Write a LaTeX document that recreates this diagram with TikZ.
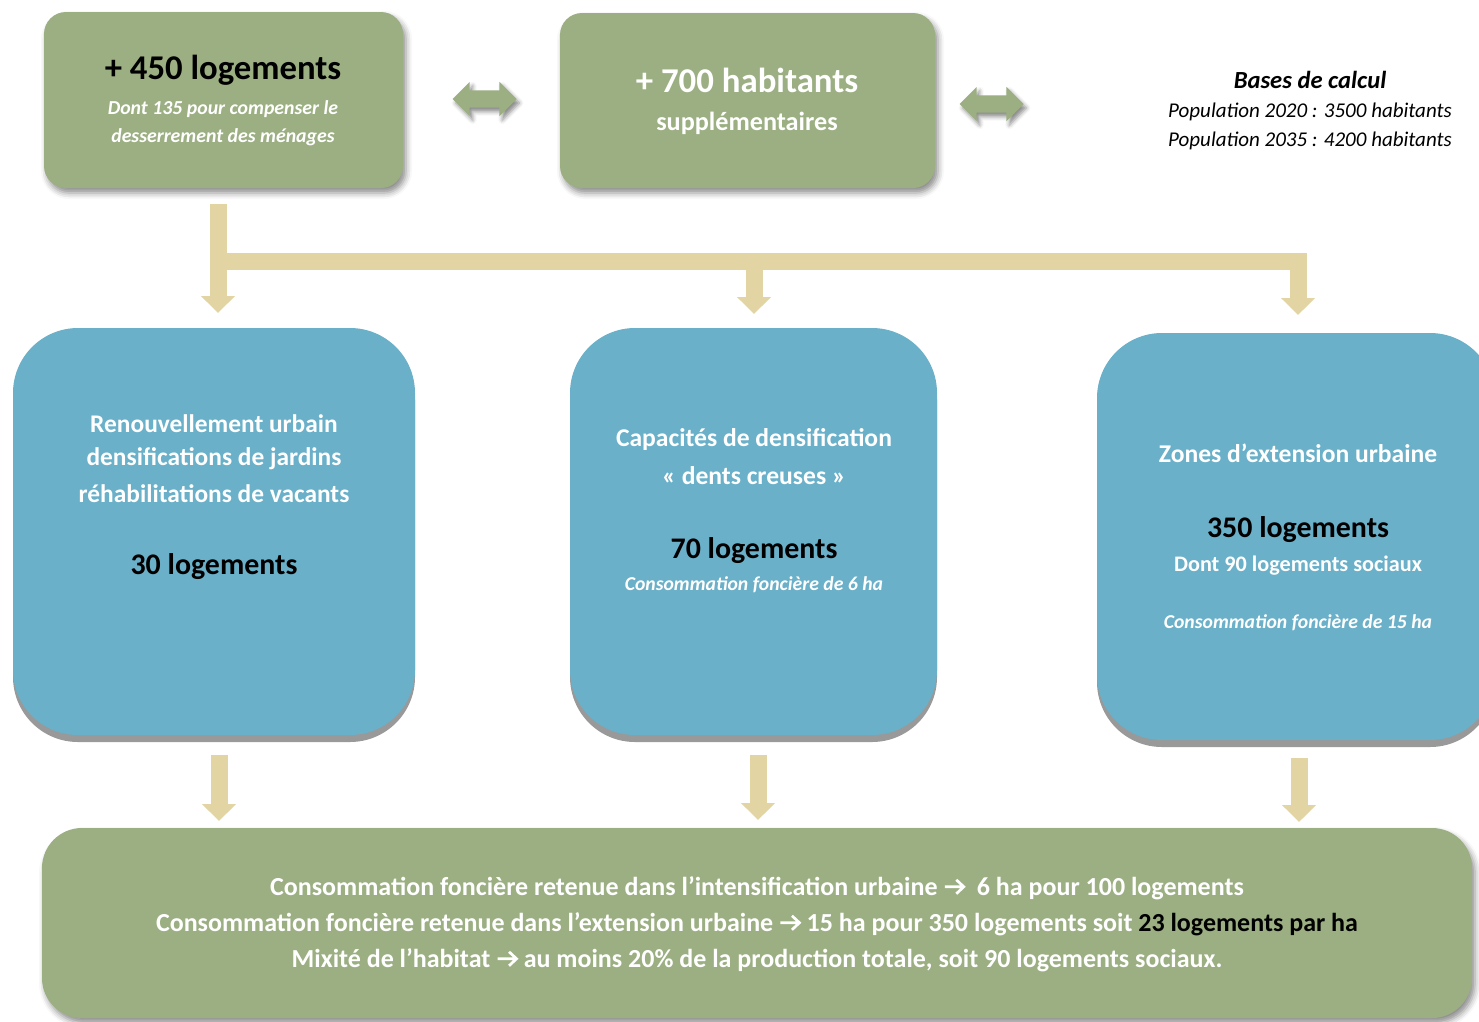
\documentclass[tikz,border=0pt]{standalone}
\usepackage{fontspec}
\setmainfont{Carlito}
\usetikzlibrary{arrows.meta,shadows,shadows.blur,shapes.arrows}
\definecolor{sage}{RGB}{155,175,130}
\definecolor{sky}{RGB}{106,176,201}
\definecolor{tanc}{RGB}{226,212,163}
\definecolor{shgray}{RGB}{153,153,153}
\newcommand{\rarr}{\tikz[baseline=0pt,x=1pt,y=1pt]{\draw[white, line width=2.7pt, line join=miter, line cap=butt] (1,8.5) -- (20,8.5) (12.5,1.5) -- (20,8.5) -- (12.5,15.5);}}
\tikzset{
  gbox/.style={fill=sage, draw=none, rounded corners=22pt,
    blur shadow={shadow xshift=3pt, shadow yshift=-5pt, shadow blur radius=6pt, shadow opacity=45}},
  bbox/.style={fill=sky, draw=none, rounded corners=65pt,
    drop shadow={shadow xshift=0pt, shadow yshift=-7pt, fill=shgray, opacity=1}},
  conn/.style={draw=tanc, line width=17pt, line cap=butt, line join=miter,
    -{Triangle[width=33pt,length=17pt]}},
  bar/.style={draw=tanc, line width=17pt, line cap=butt, line join=miter},
  dbl/.style={double arrow, fill=sage, draw=none, minimum width=34pt, minimum height=64pt,
    inner sep=8.5pt, double arrow head extend=8.5pt,
    blur shadow={shadow xshift=3pt, shadow yshift=-4pt, shadow blur radius=4pt, shadow opacity=45}},
  txt/.style={inner sep=0pt, font=\bfseries, text=white},
}
\begin{document}
\begin{tikzpicture}[x=1pt,y=-1pt]
\useasboundingbox (0,0) rectangle (1479,1021);
\clip (0,0) rectangle (1479,1021);
% top boxes
\node[gbox, minimum width=359pt, minimum height=176pt] (tl) at (223.5,100) {};
\node[gbox, minimum width=375pt, minimum height=175pt] (tm) at (747.5,100.5) {};
\node[dbl] (da1) at (484.5,99) {};
\node[dbl] (da2) at (991.5,104) {};
% texts top
\node[txt, text=black, font=\bfseries\fontsize{34.7}{40}\selectfont] (tl1) at (223,70) {+ 450 logements};
\node[txt, font=\bfseries\itshape\fontsize{19.8}{23}\selectfont] (tl2) at (223,109) {Dont 135 pour compenser le};
\node[txt, font=\bfseries\itshape\fontsize{19.8}{23}\selectfont] (tl3) at (223,137) {desserrement des ménages};
\node[txt, font=\bfseries\fontsize{34.8}{40}\selectfont] (tm1) at (747,80) {+ 700 habitants};
\node[txt, font=\bfseries\fontsize{26.2}{30}\selectfont] (tm2) at (747,123) {supplémentaires};
\node[txt, text=black, font=\bfseries\itshape\fontsize{24.6}{29}\selectfont] (bc1) at (1310,80) {Bases de calcul};
\node[txt, text=black, font=\itshape\fontsize{21}{25}\selectfont] (bc2) at (1310,112) {Population 2020 : 3500 habitants};
\node[txt, text=black, font=\itshape\fontsize{21}{25}\selectfont] (bc3) at (1310,141) {Population 2035 : 4200 habitants};
% blue boxes
\node[bbox, minimum width=402pt, minimum height=407pt] (b1) at (214,531.5) {};
\node[bbox, minimum width=367pt, minimum height=407pt] (b2) at (753.5,531.5) {};
\node[bbox, minimum width=398pt, minimum height=407pt] (b3) at (1296,536.5) {};
% bottom box
\node[gbox, rounded corners=40pt, minimum width=1430pt, minimum height=190pt] (bt) at (757,923) {};
% connectors top
\coordinate (s0) at (218,204);
\coordinate (j1) at (218,261.5);
\coordinate (j2) at (754,261.5);
\draw[bar] (j1) -- (j2);
\draw[conn] (s0) -- (218,313);
\draw[conn] (j2) -- (754,314);
\draw[conn] (j1) -| (1298,315);
% connectors bottom
\draw[conn] (219,755) -- (219,821);
\draw[conn] (758,755) -- (758,820);
\draw[conn] (1299,758) -- (1299,822);
% blue texts
\node[txt, font=\bfseries\fontsize{25.4}{30}\selectfont] (b1a) at (214,424) {Renouvellement urbain};
\node[txt, font=\bfseries\fontsize{25.4}{30}\selectfont] (b1b) at (214,459) {densifications de jardins};
\node[txt, font=\bfseries\fontsize{25.4}{30}\selectfont] (b1c) at (214,494) {réhabilitations de vacants};
\node[txt, text=black, font=\bfseries\fontsize{29.9}{34}\selectfont] (b1d) at (214,567) {30 logements};
\node[txt, font=\bfseries\fontsize{25.6}{30}\selectfont] (b2a) at (754,440) {Capacités de densification};
\node[txt, font=\bfseries\fontsize{25.6}{30}\selectfont] (b2b) at (754,476) {« dents creuses »};
\node[txt, text=black, font=\bfseries\fontsize{29.9}{34}\selectfont] (b2c) at (754,551) {70 logements};
\node[txt, font=\bfseries\itshape\fontsize{19.7}{23}\selectfont] (b2d) at (754,585) {Consommation foncière de 6 ha};
\node[txt, font=\bfseries\fontsize{25.6}{30}\selectfont] (b3a) at (1298,453) {Zones d’extension urbaine};
\node[txt, text=black, font=\bfseries\fontsize{29.9}{34}\selectfont] (b3b) at (1298,530) {350 logements};
\node[txt, font=\bfseries\fontsize{22.2}{26}\selectfont] (b3c) at (1298,566) {Dont 90 logements sociaux};
\node[txt, font=\bfseries\itshape\fontsize{19.7}{23}\selectfont] (b3d) at (1298,623) {Consommation foncière de 15 ha};
% bottom texts
\node[txt, font=\bfseries\fontsize{26}{30}\selectfont] (l1) at (757,888) {Consommation foncière retenue dans l’intensification urbaine \rarr\ \ 6 ha pour 100 logements};
\node[txt, font=\bfseries\fontsize{26}{30}\selectfont] (l2) at (757,924) {Consommation foncière retenue dans l’extension urbaine \rarr\ 15 ha pour 350 logements soit {\color{black}23 logements par ha}};
\node[txt, font=\bfseries\fontsize{26}{30}\selectfont] (l3) at (757,960) {Mixité de l’habitat \rarr\ au moins 20\% de la production totale, soit 90 logements sociaux.};
\end{tikzpicture}
\end{document}
